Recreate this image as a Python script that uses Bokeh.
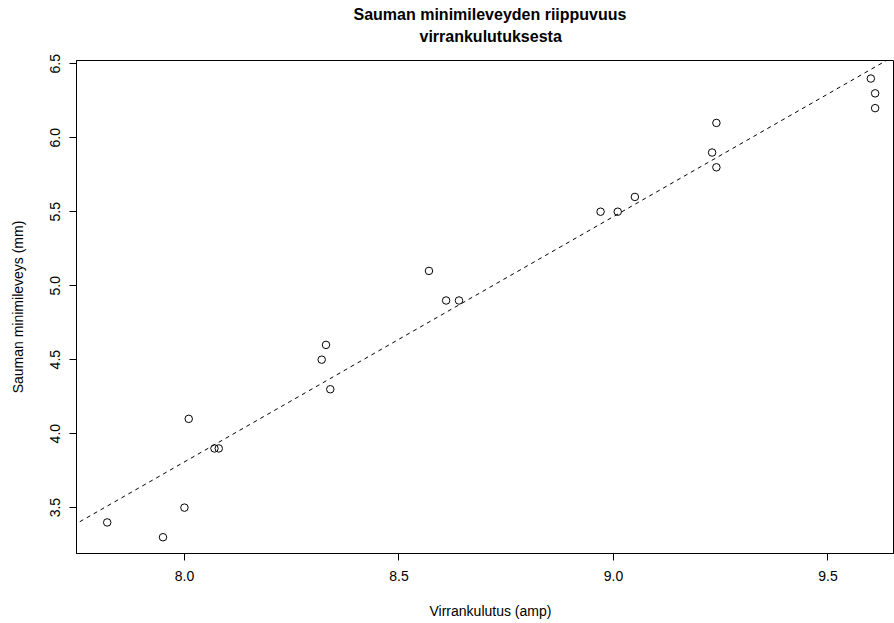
import numpy as np
from bokeh.plotting import figure
from bokeh.models import Title, Slope, FixedTicker, NumeralTickFormatter, Range1d
from bokeh.embed import file_html
from bokeh.resources import INLINE

# data (current in amp vs minimum seam width in mm)
virta = [7.82, 7.95, 8.00, 8.01, 8.07, 8.08, 8.32, 8.33, 8.34, 8.57, 8.61,
         8.64, 8.97, 9.01, 9.05, 9.23, 9.24, 9.24, 9.60, 9.61, 9.61]
leveys = [3.4, 3.3, 3.5, 4.1, 3.9, 3.9, 4.5, 4.6, 4.3, 5.1, 4.9,
          4.9, 5.5, 5.5, 5.6, 5.9, 6.1, 5.8, 6.4, 6.3, 6.2]
x_ticks = [8.0, 8.5, 9.0, 9.5]
y_ticks = [3.5, 4.0, 4.5, 5.0, 5.5, 6.0, 6.5]
title_lines = ["Sauman minimileveyden riippuvuus", "virrankulutuksesta"]
x_label = "Virrankulutus (amp)"
y_label = "Sauman minimileveys (mm)"

FONT = "Liberation Sans"

xr = (min(virta), max(virta))
xpad = 0.04 * (xr[1] - xr[0])
x_start = xr[0] - xpad
frame_w, frame_h = 818, 493
x_end = x_start + frame_w / 429.0

p = figure(title=None, frame_width=frame_w, frame_height=frame_h,
           min_border_left=76, min_border_right=0, min_border_top=60,
           min_border_bottom=70,
           x_range=Range1d(x_start, x_end),
           y_range=Range1d(3.19, 6.522),
           output_backend="svg", toolbar_location=None)

p.background_fill_color = "white"
p.border_fill_color = "white"
p.outline_line_color = "black"
p.outline_line_width = 1
p.xgrid.visible = False
p.ygrid.visible = False

for ax in (p.xaxis[0], p.yaxis[0]):
    ax.axis_line_color = "black"
    ax.major_tick_line_color = "black"
    ax.major_tick_out = 7
    ax.major_tick_in = 0
    ax.minor_tick_line_color = None
    ax.major_label_text_font = FONT
    ax.major_label_text_font_size = "14px"
    ax.major_label_text_color = "black"
    ax.formatter = NumeralTickFormatter(format="0.0")
    ax.axis_label_text_font = FONT
    ax.axis_label_text_font_size = "14px"
    ax.axis_label_text_font_style = "normal"
    ax.axis_label_text_color = "black"

p.xaxis[0].ticker = FixedTicker(ticks=x_ticks)
p.yaxis[0].ticker = FixedTicker(ticks=y_ticks)
p.xaxis[0].major_label_standoff = 10
p.yaxis[0].major_label_standoff = 9
p.yaxis[0].major_label_orientation = "parallel"
p.yaxis[0].axis_label = y_label
p.yaxis[0].axis_label_standoff = 22

# regression line
slope, intercept = np.polyfit(virta, leveys, 1)
p.add_layout(Slope(gradient=slope, y_intercept=intercept,
                   line_color="black", line_width=1, line_dash="4 4"))

p.scatter(virta, leveys, marker="circle", size=7.5, fill_color=None,
          line_color="black", line_width=1)

# titles / x label centred on the original (wider) plot region, x ~ 490 px
def ttl(text, size, style, offset, standoff, valign="bottom"):
    return Title(text=text, align="left", offset=offset, text_font=FONT,
                 text_font_size=size, text_font_style=style,
                 text_color="black", standoff=standoff, vertical_align=valign)

# spacer closest to frame, then line 2, then line 1
p.add_layout(Title(text=" ", text_font_size="8px", standoff=2,
                   text_color="white"), "above")
p.add_layout(ttl(title_lines[1], "16px", "bold", 343, 6), "above")
p.add_layout(ttl(title_lines[0], "16px", "bold", 277, 0), "above")

# spacer below axis, then x label
p.add_layout(Title(text=" ", text_font_size="14px", standoff=0,
                   text_color="white"), "below")
p.add_layout(ttl(x_label, "14px", "normal", 353, 2, "top"), "below")

open("out.html", "w").write(file_html(p, INLINE))
